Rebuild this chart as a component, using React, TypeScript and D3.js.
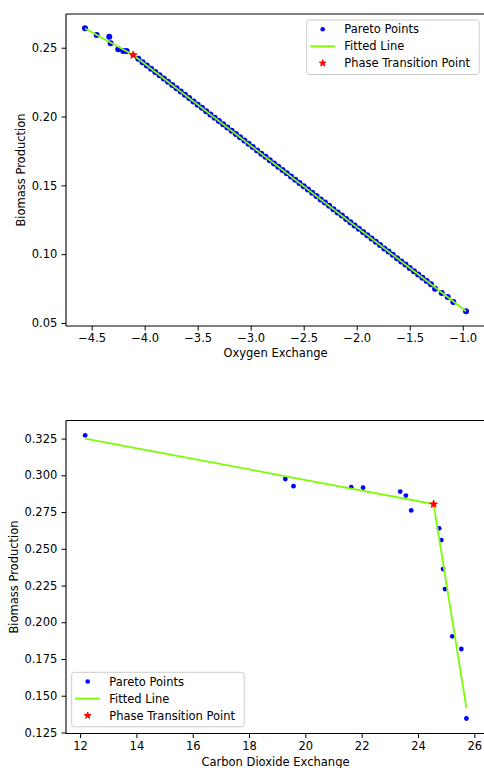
import React, { useEffect, useRef } from 'react';
import * as d3 from 'd3';

// top panel: oxygen exchange vs biomass
const oxygenX = [
  -4.563, -4.453, -4.334, -4.321, -4.249, -4.202, -4.170,
  -4.06, -4.02, -3.98, -3.94, -3.90, -3.86, -3.82, -3.78, -3.74, -3.70,
  -3.66, -3.62, -3.58, -3.54, -3.50, -3.46, -3.42, -3.38, -3.34, -3.30,
  -3.26, -3.22, -3.18, -3.14, -3.10, -3.06, -3.02, -2.98, -2.94, -2.90,
  -2.86, -2.82, -2.78, -2.74, -2.70, -2.66, -2.62, -2.58, -2.54, -2.50,
  -2.46, -2.42, -2.38, -2.34, -2.30, -2.26, -2.22, -2.18, -2.14, -2.10,
  -2.06, -2.02, -1.98, -1.94, -1.90, -1.86, -1.82, -1.78, -1.74, -1.70,
  -1.66, -1.62, -1.58, -1.54, -1.50, -1.46, -1.42, -1.38, -1.34, -1.30,
  -1.261, -1.198, -1.142, -1.089, -0.969
];
const oxygenBiomass = [
  0.2641, 0.2592, 0.2580, 0.2532, 0.2488, 0.2476, 0.2476,
  0.2419, 0.2395, 0.2371, 0.2347, 0.2324, 0.2300, 0.2276, 0.2253, 0.2229, 0.2205,
  0.2181, 0.2158, 0.2134, 0.2110, 0.2086, 0.2063, 0.2039, 0.2015, 0.1991, 0.1968,
  0.1944, 0.1920, 0.1897, 0.1873, 0.1849, 0.1825, 0.1802, 0.1778, 0.1754, 0.1730,
  0.1707, 0.1683, 0.1659, 0.1636, 0.1612, 0.1588, 0.1564, 0.1541, 0.1517, 0.1493,
  0.1469, 0.1446, 0.1422, 0.1398, 0.1375, 0.1351, 0.1327, 0.1303, 0.1280, 0.1256,
  0.1232, 0.1208, 0.1185, 0.1161, 0.1137, 0.1114, 0.1090, 0.1066, 0.1042, 0.1019,
  0.0995, 0.0971, 0.0947, 0.0924, 0.0900, 0.0876, 0.0852, 0.0829, 0.0805, 0.0781,
  0.0749, 0.0717, 0.0688, 0.0652, 0.0585
];
const oxygenFitX = [-4.563, -4.108, -0.969];
const oxygenFitY = [0.2640, 0.2447, 0.0585];
const oxygenPhase = [-4.108, 0.2447];
const oxygenXTicks = [-4.5, -4.0, -3.5, -3.0, -2.5, -2.0, -1.5, -1.0];
const oxygenYTicks = [0.05, 0.10, 0.15, 0.20, 0.25];

// bottom panel: carbon dioxide exchange vs biomass
const co2X = [12.18, 19.29, 19.58, 21.63, 22.05, 23.37, 23.57, 23.76, 24.75, 24.83, 24.89, 24.96, 25.22, 25.54, 25.72];
const co2Biomass = [0.3272, 0.2975, 0.2926, 0.2919, 0.2916, 0.2889, 0.2862, 0.2761, 0.2639, 0.2559, 0.2362, 0.2226, 0.1904, 0.1818, 0.1345];
const co2FitX = [12.18, 24.555, 25.72];
const co2FitY = [0.3250, 0.2804, 0.1417];
const co2Phase = [24.555, 0.2804];
const co2XTicks = [12, 14, 16, 18, 20, 22, 24, 26];
const co2YTicks = [0.125, 0.150, 0.175, 0.200, 0.225, 0.250, 0.275, 0.300, 0.325];

const legendLabels = ['Pareto Points', 'Fitted Line', 'Phase Transition Point'];

const FONT = 'DejaVu Sans';
const FS = 11.5;
const BLUE = '#0000ff';
const GREEN = '#7cfc00';
const RED = '#ff0000';

function drawPanel(svg, cfg) {
  let x = d3.scaleLinear().domain(cfg.xlim).range([cfg.left, cfg.right]);
  let y = d3.scaleLinear().domain(cfg.ylim).range([cfg.bottom, cfg.top]);
  let g = svg.append('g');

  // points
  g.selectAll('circle.pt')
    .data(cfg.xs)
    .enter().append('circle')
    .attr('class', 'pt')
    .attr('cx', d => x(d))
    .attr('cy', (d, i) => y(cfg.ys[i]))
    .attr('r', cfg.r)
    .style('fill', BLUE);

  // fitted piecewise line
  let line = d3.line().x(d => x(d[0])).y(d => y(d[1]));
  g.append('path')
    .datum(cfg.fitX.map((v, i) => [v, cfg.fitY[i]]))
    .attr('d', line)
    .style('fill', 'none')
    .style('stroke', GREEN)
    .style('stroke-width', 1.8);

  // phase transition star
  g.append('path')
    .attr('d', d3.symbol().type(d3.symbolStar).size(16)())
    .attr('transform', 'translate(' + x(cfg.phase[0]) + ',' + y(cfg.phase[1]) + ')')
    .style('fill', RED)
    .style('stroke', RED)
    .style('stroke-width', 1.1)
    .style('stroke-linejoin', 'round');

  // axes
  let fmtX = cfg.fmtX, fmtY = cfg.fmtY;
  let xAxis = g.append('g')
    .attr('transform', 'translate(0,' + cfg.bottom + ')')
    .call(d3.axisBottom(x).tickValues(cfg.xTicks).tickSize(4.5).tickPadding(3.6).tickFormat(d => fmtX(d)));
  let yAxis = g.append('g')
    .attr('transform', 'translate(' + cfg.left + ',0)')
    .call(d3.axisLeft(y).tickValues(cfg.yTicks).tickSize(4.5).tickPadding(4.2).tickFormat(d => fmtY(d)));
  [xAxis, yAxis].forEach(a => {
    a.select('.domain').remove();
    a.selectAll('line').style('stroke', '#000').style('stroke-width', 1);
    a.selectAll('text').style('font-family', FONT).style('font-size', FS + 'px').style('fill', '#000');
  });

  // spines
  let spine = (x1, y1, x2, y2) => g.append('line')
    .attr('x1', x1).attr('y1', y1).attr('x2', x2).attr('y2', y2)
    .style('stroke', '#000').style('stroke-width', 1.1);
  spine(cfg.left, cfg.top, cfg.left, cfg.bottom);
  spine(cfg.left, cfg.bottom, cfg.right, cfg.bottom);
  spine(cfg.left, cfg.top, cfg.right, cfg.top);
  spine(cfg.right, cfg.top, cfg.right, cfg.bottom);

  // axis labels
  g.append('text')
    .attr('x', (cfg.left + cfg.right) / 2)
    .attr('y', cfg.xLabelY)
    .style('text-anchor', 'middle')
    .style('font-family', FONT).style('font-size', FS + 'px')
    .text(cfg.xLabel);
  g.append('text')
    .attr('transform', 'translate(' + cfg.yLabelX + ',' + (cfg.top + cfg.bottom) / 2 + ') rotate(-90)')
    .style('text-anchor', 'middle')
    .style('font-family', FONT).style('font-size', FS + 'px')
    .text('Biomass Production');

  // legend
  let lg = g.append('g').attr('transform', 'translate(' + cfg.legend[0] + ',' + cfg.legend[1] + ')');
  lg.append('rect')
    .attr('x', 0).attr('y', 0).attr('width', 172.5).attr('height', 54.5)
    .attr('rx', 2.5)
    .style('fill', '#fff').style('fill-opacity', 0.8)
    .style('stroke', '#cccccc').style('stroke-width', 1);
  let rows = [9.2, 26.3, 43.2];
  lg.append('circle').attr('cx', 16).attr('cy', rows[0]).attr('r', 2.3).style('fill', BLUE);
  lg.append('line').attr('x1', 3.5).attr('x2', 28.3).attr('y1', rows[1]).attr('y2', rows[1])
    .style('stroke', GREEN).style('stroke-width', 1.8);
  lg.append('path')
    .attr('d', d3.symbol().type(d3.symbolStar).size(14)())
    .attr('transform', 'translate(16,' + rows[2] + ')')
    .style('fill', RED)
    .style('stroke', RED)
    .style('stroke-width', 1)
    .style('stroke-linejoin', 'round');
  lg.selectAll('text.lbl')
    .data(legendLabels)
    .enter().append('text')
    .attr('class', 'lbl')
    .attr('x', 37.6)
    .attr('y', (d, i) => rows[i] + 4.1)
    .style('font-family', FONT).style('font-size', FS + 'px')
    .text(d => d);
}

class App extends React.Component {
  constructor(props) {
    super(props);
    this.ref = React.createRef();
  }

  componentDidMount() {
    let svg = d3.select(this.ref.current);
    svg.selectAll('*').remove();
    let minus = s => s.replace('-', '\u2212');

    drawPanel(svg, {
      xs: oxygenX, ys: oxygenBiomass, r: 3.0,
      fitX: oxygenFitX, fitY: oxygenFitY, phase: oxygenPhase,
      xlim: [-4.742, -0.79], ylim: [0.0478, 0.2745],
      left: 66, right: 485, top: 14, bottom: 326,
      xTicks: oxygenXTicks, yTicks: oxygenYTicks,
      fmtX: d => minus(d3.format('.1f')(d)), fmtY: d => d3.format('.2f')(d),
      xLabel: 'Oxygen Exchange', xLabelY: 357.3, yLabelX: 25,
      legend: [306.7, 20]
    });

    drawPanel(svg, {
      xs: co2X, ys: co2Biomass, r: 2.4,
      fitX: co2FitX, fitY: co2FitY, phase: co2Phase,
      xlim: [11.50, 26.38], ylim: [0.1243, 0.3373],
      left: 66, right: 485, top: 420.5, bottom: 733.5,
      xTicks: co2XTicks, yTicks: co2YTicks,
      fmtX: d => d3.format('d')(d), fmtY: d => d3.format('.3f')(d),
      xLabel: 'Carbon Dioxide Exchange', xLabelY: 766, yLabelX: 17.5,
      legend: [71.7, 672.3]
    });
  }

  render() {
    return (
      <svg ref={this.ref} width={484} height={768}
        style={{ position: 'absolute', left: 0, top: 0, background: '#fff' }} />
    );
  }
}

export default App;
